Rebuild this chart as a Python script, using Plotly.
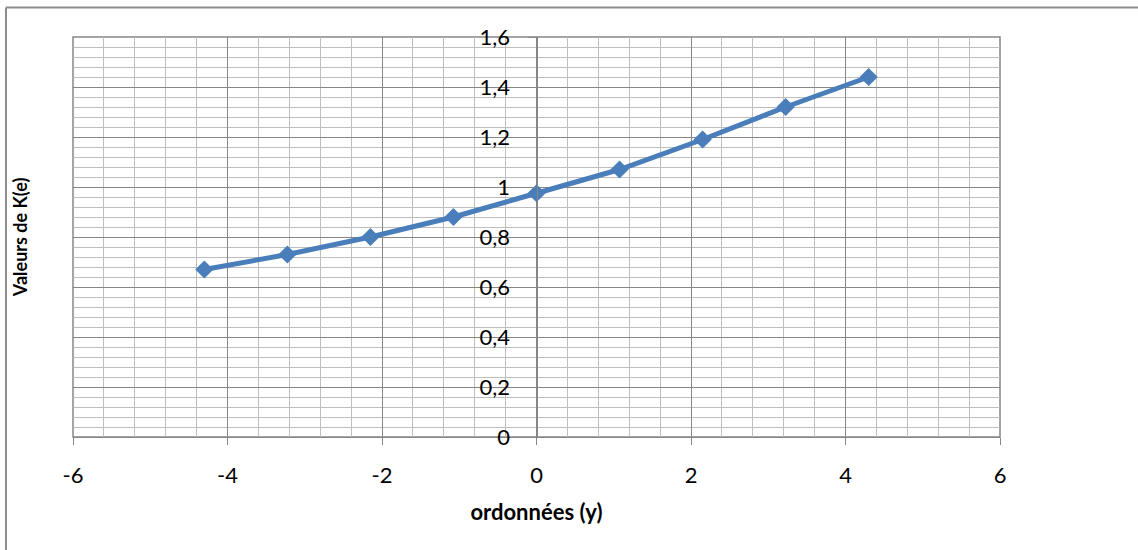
import plotly.graph_objects as go

# Ordonnées (y) and corresponding K(e) values
ordonnees = [-4.3, -3.225, -2.15, -1.075, 0, 1.075, 2.15, 3.225, 4.3]
valeurs_k = [0.67, 0.73, 0.80, 0.88, 0.975, 1.07, 1.19, 1.32, 1.44]

x_ticks = [-6, -4, -2, 0, 2, 4, 6]
y_ticks = [0, 0.2, 0.4, 0.6, 0.8, 1, 1.2, 1.4, 1.6]

SERIES_BLUE = "#4A7EBB"
MAJOR_GRID = "#868686"
MINOR_GRID = "#BDBDBD"
BORDER = "#8C8C8C"
FAMILY = "Lato, Carlito, Calibri, sans-serif"
TICK_FONT = dict(family=FAMILY, size=22, color="#000000")
XTITLE_FONT = dict(family=FAMILY, size=22, color="#000000")
YTITLE_FONT = dict(family=FAMILY, size=18, color="#000000")

fig = go.Figure()
fig.add_trace(go.Scatter(
    x=ordonnees,
    y=valeurs_k,
    mode="lines+markers",
    line=dict(color=SERIES_BLUE, width=5),
    marker=dict(symbol="diamond", size=14, color=SERIES_BLUE),
    showlegend=False,
    cliponaxis=False,
))

fig.update_layout(
    width=1138,
    height=550,
    margin=dict(l=73, r=138, t=37, b=113),
    paper_bgcolor="white",
    plot_bgcolor="white",
    separators=", ",
    xaxis=dict(
        range=[-6, 6],
        tickvals=x_ticks,
        ticktext=[str(v) for v in x_ticks],
        showgrid=True,
        gridcolor=MAJOR_GRID,
        gridwidth=1.3,
        minor=dict(dtick=0.4, tick0=-6, showgrid=True, gridcolor=MINOR_GRID, gridwidth=1.4),
        zeroline=False,
        showline=True,
        linecolor=MAJOR_GRID,
        linewidth=1.3,
        ticks="outside",
        ticklen=7,
        tickcolor=MAJOR_GRID,
        ticklabelstandoff=11,
        tickfont=TICK_FONT,
        title=dict(text="<b>ordonnées (y)</b>", font=XTITLE_FONT, standoff=18),
    ),
    yaxis=dict(
        range=[0, 1.6],
        tickvals=y_ticks,
        tickformat=".1~f",
        showgrid=True,
        gridcolor=MAJOR_GRID,
        gridwidth=1.3,
        minor=dict(dtick=0.04, tick0=0, showgrid=True, gridcolor=MINOR_GRID, gridwidth=1.4),
        zeroline=False,
        anchor="free",
        position=0.5,
        showline=True,
        linecolor=MAJOR_GRID,
        linewidth=1.3,
        ticks="outside",
        ticklen=8,
        tickcolor=MAJOR_GRID,
        ticklabelstandoff=14,
        tickfont=TICK_FONT,
    ),
    shapes=[
        # plot area frame
        dict(type="rect", xref="paper", yref="paper", x0=0, y0=0, x1=1, y1=1,
             line=dict(color=MAJOR_GRID, width=1.5), layer="below"),
        # chart area border: left and top edges
        dict(type="line", xref="paper", yref="paper",
             x0=-0.0723, y0=1.074, x1=-0.0723, y1=-0.3,
             line=dict(color=BORDER, width=2), layer="below"),
        dict(type="line", xref="paper", yref="paper",
             x0=-0.0723, y0=1.074, x1=1.16, y1=1.074,
             line=dict(color=BORDER, width=2), layer="below"),
    ],
    annotations=[
        dict(text="<b>Valeurs de K(e)</b>", xref="paper", yref="paper",
             x=-0.057, y=0.5, textangle=-90, showarrow=False,
             xanchor="center", yanchor="middle", font=YTITLE_FONT),
    ],
)

fig.write_html("out.html")
